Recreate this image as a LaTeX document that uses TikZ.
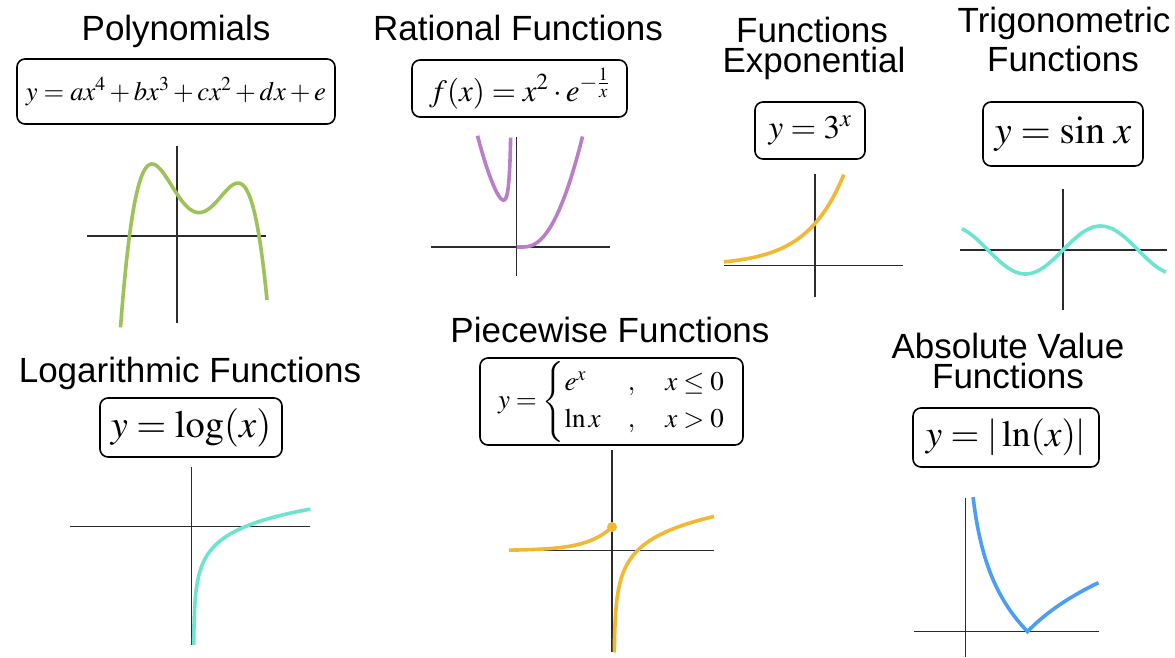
\documentclass[tikz,border=0pt]{standalone}
\usepackage{amsmath}
\usepackage{mathptmx}
\usepackage{fontspec}
\setmainfont{Liberation Serif}
\newfontfamily\headfont{Liberation Sans}
\usetikzlibrary{positioning}
\definecolor{polygreen}{HTML}{9DC25A}
\definecolor{ratpurple}{HTML}{B97DC9}
\definecolor{expgold}{HTML}{F2B834}
\definecolor{trigteal}{HTML}{6EE3CF}
\definecolor{absblue}{HTML}{4A9EF5}
\definecolor{axisgray}{HTML}{2B2B2B}
\tikzset{
  head/.style={font=\headfont\fontsize{35}{35}\selectfont,anchor=base,inner sep=0pt},
  fbox/.style={draw=black,line width=1.6pt,rounded corners=8pt,inner sep=0pt,align=center},
  axisl/.style={line width=1.1pt,color=axisgray},
  curve/.style={line width=3.6pt},
  dotn/.style={circle,fill=expgold,inner sep=0pt,minimum size=10pt},
  declare function={polyg(\u)=\u*(1.0736+\u*(-0.5864+\u*(-1.5467+\u)));},
}
\begin{document}
\begin{tikzpicture}[x=1pt,y=-1pt]
\useasboundingbox[fill=white] (0,0) rectangle (1175,657);
\node[head] (tpoly) at (176,40) {Polynomials};
\node[head] (trat) at (518,40) {Rational Functions};
\node[head] (texpa) at (812,42) {Functions};
\node[head] (texpb) at (814,72) {Exponential};
\node[head] (ttriga) at (1064,32) {Trigonometric};
\node[head] (ttrigb) at (1063,71) {Functions};
\node[head] (tlog) at (190,382) {Logarithmic Functions};
\node[head] (tpw) at (610,342) {Piecewise Functions};
\node[head] (tabsa) at (1008,358) {Absolute Value};
\node[head] (tabsb) at (1008,388) {Functions};
\node[fbox,minimum width=318pt,minimum height=65pt,font=\fontsize{26.6}{26.6}\selectfont] (fpoly) at (176,91.5) {$y=ax^4+bx^3+cx^2+dx+e$};
\node[fbox,minimum width=215pt,minimum height=57pt,font=\fontsize{31}{31}\selectfont] (frat) at (519.5,88.5) {$f(x)=x^2\cdot e^{-\frac{1}{x}}$};
\node[fbox,minimum width=110pt,minimum height=57pt,font=\fontsize{33}{33}\selectfont] (fexp) at (810,130.5) {$y=3^x$};
\node[fbox,minimum width=160pt,minimum height=64pt,font=\fontsize{39}{39}\selectfont] (ftrig) at (1063,134) {$y=\sin\,x$};
\node[fbox,minimum width=182pt,minimum height=59pt,font=\fontsize{38.5}{38.5}\selectfont] (flog) at (191,427.5) {$y=\log(x)$};
\node[fbox,minimum width=263pt,minimum height=87pt,font=\fontsize{27}{31}\selectfont] (fpw) at (611.5,401.5) {$y=\begin{cases} e^x & ,\quad x\le 0\\ \ln x & ,\quad x>0\end{cases}$};
\node[fbox,minimum width=186pt,minimum height=59pt,font=\fontsize{37}{37}\selectfont] (fabs) at (1006,437.5) {$y=|\ln(x)|$};
\draw[axisl] (177,146) -- (177,323);
\draw[axisl] (87,236) -- (266,236);
\draw[axisl] (516.5,137) -- (516.5,276);
\draw[axisl] (431,247) -- (610,247);
\draw[axisl] (815,174) -- (815,297);
\draw[axisl] (724,265.5) -- (903,265.5);
\draw[axisl] (1063,189) -- (1063,310);
\draw[axisl] (960,250) -- (1167,250);
\draw[axisl] (191.5,467) -- (191.5,645);
\draw[axisl] (70,526.5) -- (310,526.5);
\draw[axisl] (612,450) -- (612,652);
\draw[axisl] (509,550.5) -- (714,550.5);
\draw[axisl] (965.5,498) -- (965.5,657);
\draw[axisl] (914,631.5) -- (1099,631.5);
\begin{scope}[shift={(177,236)},yscale=-1]
\draw[curve,polygreen] plot[domain=-56.5:90,samples=90,smooth] (\x,{42-70.2*polyg(\x/50)});
\end{scope}
\begin{scope}[shift={(516.5,247)},xscale=26,yscale=-25.4]
\draw[curve,ratpurple] plot[domain=-1.5:-0.225,samples=100,smooth] (\x,{\x*\x*exp(-1/\x)});
\draw[curve,ratpurple] (0,0) -- plot[domain=0.12:2.54,samples=80,smooth] (\x,{\x*\x*exp(-1/\x)});
\end{scope}
\begin{scope}[shift={(815,265.5)},xscale=41,yscale=-42]
\draw[curve,expgold] plot[domain=-2.22:0.704,samples=60,smooth] (\x,{exp(1.0986*\x)});
\end{scope}
\begin{scope}[shift={(1063,250)},xscale=23.9,yscale=-24]
\draw[curve,trigteal] plot[domain=-4.23:4.31,samples=100,smooth] (\x,{sin(\x r)});
\end{scope}
\begin{scope}[shift={(193.5,526.5)},xscale=52,yscale=-21.5]
\draw[curve,trigteal] plot[variable=\t,domain=-5.5:0.81,samples=100,smooth] ({exp(\t)},\t);
\end{scope}
\begin{scope}[shift={(612,550.5)},xscale=25,yscale=-23.5]
\draw[curve,expgold] plot[domain=-4.12:0,samples=60,smooth] (\x,{exp(\x)});
\coordinate (pwdot) at (0,1);
\end{scope}
\begin{scope}[shift={(614,550.5)},xscale=23.5,yscale=-23.5]
\draw[curve,expgold] plot[variable=\t,domain=-4.34:1.45,samples=100,smooth] ({exp(\t)},\t);
\end{scope}
\node[dotn] (pwd) at (pwdot) {};
\begin{scope}[shift={(965.5,631.5)},xscale=62,yscale=-64]
\draw[curve,absblue] plot[variable=\t,domain=-2.1:0,samples=60,smooth] ({exp(\t)},{-\t}) -- plot[variable=\t,domain=0:0.763,samples=30,smooth] ({exp(\t)},\t);
\end{scope}
\end{tikzpicture}
\end{document}
